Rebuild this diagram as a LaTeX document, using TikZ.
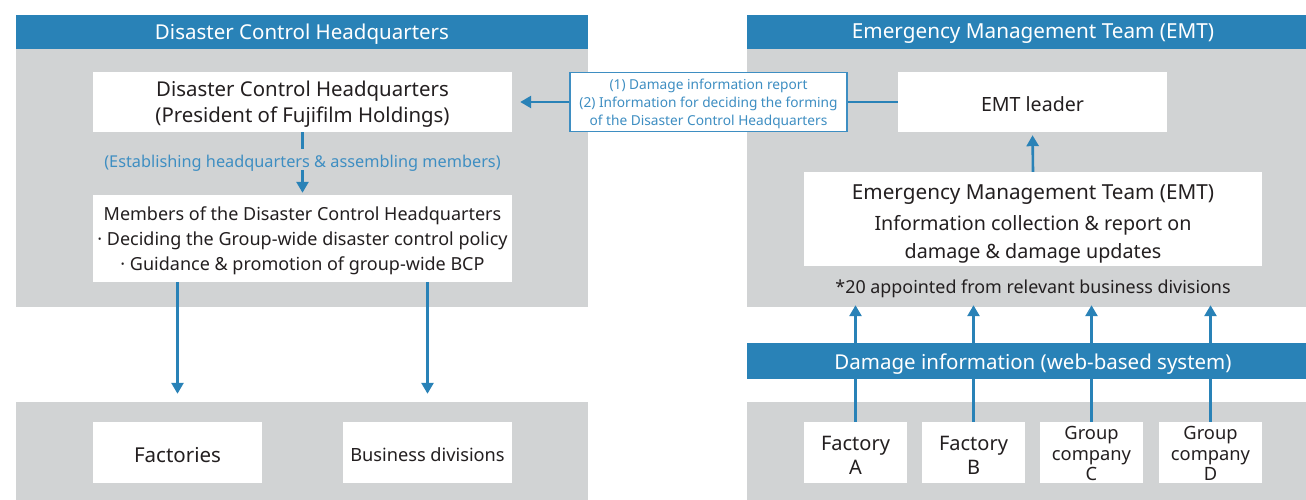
\documentclass[tikz,border=0pt]{standalone}
\usepackage{fontspec}
\setmainfont{Noto Sans}
\usetikzlibrary{arrows.meta,calc}
\definecolor{hblue}{RGB}{41,130,183}
\definecolor{pgray}{RGB}{209,211,212}
\definecolor{lblue}{RGB}{62,142,194}
\definecolor{dtext}{RGB}{35,31,32}
\begin{document}
\begin{tikzpicture}[x=1pt,y=-1pt,
  hdr/.style={fill=hblue,inner sep=0,minimum width=572,minimum height=34},
  htxt/.style={text=white,inner sep=0,font=\fontsize{20.5}{22}\selectfont},
  panel/.style={fill=pgray,inner sep=0,minimum width=572},
  wbox/.style={fill=white,inner sep=0},
  txt/.style={text=dtext,inner sep=0,align=center,font=\fontsize{20.4}{26}\selectfont},
  arr/.style={draw=hblue,line width=2.6,-{Triangle[width=12,length=11]}},
  ln/.style={draw=hblue,line width=2.6},
  callout/.style={draw=lblue,line width=1.3,fill=white,inner sep=0,minimum width=277,minimum height=59},
  ctxt/.style={text=lblue,align=center,inner sep=0,font=\fontsize{13.7}{18}\selectfont},
  lbl/.style={text=lblue,font=\fontsize{16.3}{18}\selectfont},
  note/.style={text=dtext,font=\fontsize{17.9}{20}\selectfont},
]
\useasboundingbox (0,0) rectangle (1306,500);
\clip (0,0) rectangle (1306,500);
\fill[white] (0,0) rectangle (1306,500);
% ---------- left ----------
\node[panel,minimum height=258] (panelL) at (302,178) {};
\node[hdr] (hdrL) at (302,32) {};
\node[htxt] (hdrLt) at (302,34) {Disaster Control Headquarters};
\node[wbox,minimum width=419,minimum height=60] (dch) at (302.5,102) {};
\node[txt] (dcht) at (302.5,104.5) {Disaster Control Headquarters\\(President of Fujifilm Holdings)};
\node[lbl] (est) at (302.5,163) {(Establishing headquarters \& assembling members)};
\node[wbox,minimum width=419,minimum height=87] (mem) at (302.5,238.5) {};
\node[txt,font=\fontsize{18}{25}\selectfont] (memt) at (302.5,240.5) {Members of the Disaster Control Headquarters\\· Deciding the Group-wide disaster control policy\\· Guidance \& promotion of group-wide BCP};
\node[panel,minimum height=98] (panelLB) at (302,451) {};
\node[wbox,minimum width=169,minimum height=61] (fac) at (177.5,452.5) {};
\node[txt,font=\fontsize{20.5}{24}\selectfont] (fact) at (177.5,455.5) {Factories};
\node[wbox,minimum width=169,minimum height=61] (bus) at (427.5,452.5) {};
\node[txt,font=\fontsize{18.2}{24}\selectfont] (bust) at (427.5,455) {Business divisions};
\coordinate (e1) at ($(dch.south)+(0,17)$);
\coordinate (e2) at ($(mem.north)+(0,-25)$);
\draw[ln] (dch.south) -- (e1);
\draw[arr,shorten >=2] (e2) -- (mem.north);
\draw[arr,shorten >=8] (mem.south -| fac.north) -- (panelLB.north -| fac.north);
\draw[arr,shorten >=8] (mem.south -| bus.north) -- (panelLB.north -| bus.north);
% ---------- right ----------
\node[panel,minimum height=258] (panelR) at (1033,178) {};
\node[hdr] (hdrR) at (1033,32) {};
\node[htxt,font=\fontsize{20.7}{22}\selectfont] (hdrRt) at (1033,34) {Emergency Management Team (EMT)};
\node[wbox,minimum width=269,minimum height=60] (emtl) at (1032.5,102) {};
\node[txt,font=\fontsize{19.6}{24}\selectfont] (emtlt) at (1032.5,104.5) {EMT leader};
\node[wbox,minimum width=458,minimum height=94] (emt) at (1033,219) {};
\node[txt,font=\fontsize{19.7}{28}\selectfont] (emtt) at (1033,224) {{\fontsize{20.7}{28}\selectfont Emergency Management Team (EMT)}\\[3pt]Information collection \& report on\\damage \& damage updates};
\node[note] (nt) at (1033,288.5) {*20 appointed from relevant business divisions};
\node[panel,minimum height=98] (panelRB) at (1033,451) {};
\node[wbox,minimum width=103,minimum height=61] (fa) at (855.5,452.5) {};
\node[txt,font=\fontsize{20}{24}\selectfont] (fat) at (855.5,455) {Factory\\A};
\node[wbox,minimum width=103,minimum height=61] (fb) at (973.5,452.5) {};
\node[txt,font=\fontsize{20}{24}\selectfont] (fbt) at (973.5,455) {Factory\\B};
\node[wbox,minimum width=103,minimum height=61] (gc) at (1091.5,452.5) {};
\node[txt,font=\fontsize{18.3}{20.5}\selectfont] (gct) at (1091.5,453.5) {Group\\company\\C};
\node[wbox,minimum width=103,minimum height=61] (gd) at (1210.5,452.5) {};
\node[txt,font=\fontsize{18.3}{20.5}\selectfont] (gdt) at (1210.5,453.5) {Group\\company\\D};
\draw[arr,shorten >=3] (emt.north) -- (emtl.south);
\foreach \b in {fa,fb,gc,gd}{
  \draw[arr,shorten >=-2] (\b.north) -- (panelR.south -| \b.north);
}
\node[hdr,minimum height=36] (band) at (1033,361) {};
\node[htxt] (bandt) at (1033,364) {Damage information (web-based system)};
% ---------- callout ----------
\node[callout] (co) at (708.5,102) {};
\node[ctxt] (cot) at (708.5,104) {(1) Damage information report\\(2) Information for deciding the forming\\of the Disaster Control Headquarters};
\draw[ln] (emtl.west) -- (co.east);
\draw[arr,shorten >=8] (co.west) -- (dch.east);
\end{tikzpicture}
\end{document}
